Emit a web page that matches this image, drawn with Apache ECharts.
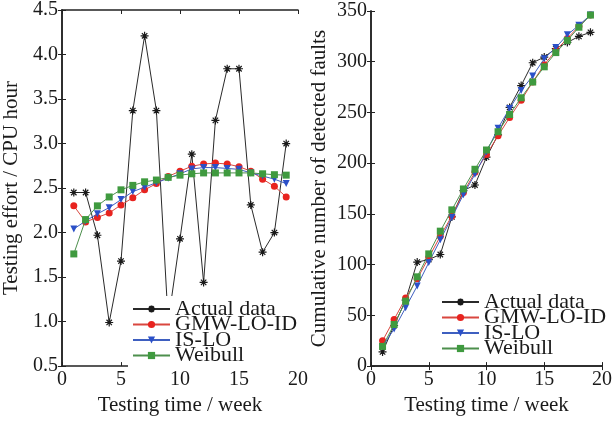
<!DOCTYPE html>
<html>
<head>
<meta charset="utf-8">
<script src="https://cdn.jsdelivr.net/npm/echarts@6/dist/echarts.min.js"></script>
<style>
html,body{margin:0;padding:0;background:#fff;}
#chart{width:615px;height:421px;}
</style>
</head>
<body>
<div id="chart"></div>
<script>
// ---- data ----
var weeks = [1,2,3,4,5,6,7,8,9,10,11,12,13,14,15,16,17,18,19];
var seriesNames = ['Actual data','GMW-LO-ID','IS-LO','Weibull'];

var effortActual  = [2.45,2.45,1.97,0.99,1.68,3.37,4.21,3.37,1.0,1.93,2.88,1.44,3.26,3.84,3.84,2.31,1.78,2.0,3.0];
var effortGMW     = [2.30,2.12,2.17,2.22,2.31,2.39,2.48,2.55,2.63,2.69,2.745,2.77,2.78,2.77,2.74,2.69,2.60,2.52,2.40];
var effortIS      = [2.04,2.13,2.21,2.28,2.37,2.46,2.51,2.56,2.61,2.66,2.715,2.73,2.73,2.72,2.71,2.67,2.635,2.60,2.55];
var effortWeibull = [1.76,2.146,2.30,2.40,2.48,2.53,2.57,2.59,2.62,2.645,2.66,2.67,2.67,2.67,2.67,2.67,2.66,2.65,2.645];

var faultsActual  = [14,40,65,102.5,105,110,147,173,178.5,206,228,255,276.5,299,304.6,313,319,325,329];
var faultsGMW     = [25,46,67,86,107,128,148,171,191,208.5,227,245,262,280,297,311,323,335,346];
var faultsIS      = [19,36.6,57.6,79,102,124.5,146.5,169,189,211,234.5,254,271.6,286,303,314,326.5,336,346];
var faultsWeibull = [19.4,41,64,88,110.6,133,154,174.6,194,213,231,248,264.5,280,295,309,321,334,346];

var xTicks = {min:0, max:20, interval:5};
var effortTicks = {min:0.5, max:4.5, interval:0.5};
var faultsTicks = {min:0, max:350, interval:50};

var xTitle = 'Testing time / week';
var effortTitle = 'Testing effort / CPU hour';
var faultsTitle = 'Cumulative number of detected faults';

// ---- styling ----
var FONT = 'Liberation Serif';
var TXT = '#1a1a1a';
var colors = ['#1a1a1a','#e8231f','#2b50c8','#3f9a3f'];
var lineColors = ['#2a2a2a','#d9473f','#3e5fc0','#4d8f4d'];
var asterisk = 'path://M5 0 L5 10 M0 5 L10 5 M1.6 1.6 L8.4 8.4 M8.4 1.6 L1.6 8.4';
var symbols = [asterisk,'circle','triangle','rect'];
var symbolSizes = [8,7,7,7];
var symbolRotate = [0,0,180,0];

function pairs(ys){ return weeks.map(function(w,i){ return [w, ys[i]]; }); }

function mkSeries(idx, dataArr, axisIndex){
  var s = {
    name: seriesNames[idx],
    type: 'line',
    xAxisIndex: axisIndex,
    yAxisIndex: axisIndex*2,
    data: pairs(dataArr),
    symbol: symbols[idx],
    symbolSize: symbolSizes[idx],
    symbolRotate: symbolRotate[idx],
    showAllSymbol: true,
    animation: false,
    lineStyle: {color: lineColors[idx], width: 1},
    itemStyle: {color: colors[idx]},
    z: 2 + idx
  };
  if (idx === 0) {
    s.itemStyle = {color: 'rgba(0,0,0,0)', borderColor: colors[0], borderWidth: 1.2};
  }
  return s;
}

function xAx(gi){
  return {
    type:'value', gridIndex: gi, min:xTicks.min, max:xTicks.max, interval:xTicks.interval,
    name: xTitle, nameLocation:'middle', nameGap: 25,
    nameTextStyle:{fontFamily:FONT, fontSize:21, color:TXT},
    axisLine:{show:true, lineStyle:{color:'#222', width:1.5}},
    axisTick:{show:true, inside:true, length:4, lineStyle:{color:'#222'}},
    axisLabel:{fontFamily:FONT, fontSize:20, color:TXT, margin:4},
    splitLine:{show:false}
  };
}
function xAxTop(gi){
  return {
    type:'value', gridIndex: gi, position:'top', min:xTicks.min, max:xTicks.max, interval:xTicks.interval,
    axisLine:{show:true, lineStyle:{color:'#222', width:1.5}},
    axisTick:{show:true, inside:true, length:4, lineStyle:{color:'#222'}},
    axisLabel:{show:false}, splitLine:{show:false}
  };
}
function yAx(gi, t, title, gap, fmt){
  return {
    type:'value', gridIndex: gi, min:t.min, max:t.max, interval:t.interval,
    name: title, nameLocation:'middle', nameGap: gap,
    nameTextStyle:{fontFamily:FONT, fontSize:21, color:TXT},
    axisLine:{show:true, lineStyle:{color:'#222', width:1.5}},
    axisTick:{show:true, inside:true, length:4, lineStyle:{color:'#222'}},
    axisLabel:{fontFamily:FONT, fontSize:20, color:TXT, margin:4, formatter: fmt},
    splitLine:{show:false}
  };
}
function yAxRight(gi, t){
  return {
    type:'value', gridIndex: gi, position:'right', min:t.min, max:t.max, interval:t.interval,
    axisLine:{show:true, lineStyle:{color:'#222', width:1.5}},
    axisTick:{show:true, inside:true, length:4, lineStyle:{color:'#222'}},
    axisLabel:{show:false}, splitLine:{show:false}
  };
}

function legend(left, top){
  return {
    data: seriesNames,
    left: left, top: top, orient:'vertical',
    itemWidth: 37, itemHeight: 9, itemGap: -6.5,
    padding: [2,4,2,4],
    backgroundColor: '#fff',
    textStyle:{fontFamily:FONT, fontSize:22, color:TXT}
  };
}

var chart = echarts.init(document.getElementById('chart'), null, {renderer:'canvas'});
var option = {
  backgroundColor:'#fff',
  animation:false,
  grid:[
    {left:62, top:10, width:236, height:363, show:false},
    {left:371, top:11, width:236, height:361, show:false}
  ],
  xAxis:[ xAx(0), xAx(1), xAxTop(0), xAxTop(1) ],
  yAxis:[
    yAx(0, effortTicks, effortTitle, 40, function(v){ return v.toFixed(1); }),
    yAxRight(0, effortTicks),
    yAx(1, faultsTicks, faultsTitle, 41, function(v){ return String(v); }),
    yAxRight(1, faultsTicks)
  ],
  legend:[ legend(128, 296), legend(437, 289) ],
  series:[
    mkSeries(0, effortActual, 0),
    mkSeries(1, effortGMW, 0),
    mkSeries(2, effortIS, 0),
    mkSeries(3, effortWeibull, 0),
    mkSeries(0, faultsActual, 1),
    mkSeries(1, faultsGMW, 1),
    mkSeries(2, faultsIS, 1),
    mkSeries(3, faultsWeibull, 1)
  ]
};
chart.setOption(option);
</script>
</body>
</html>
